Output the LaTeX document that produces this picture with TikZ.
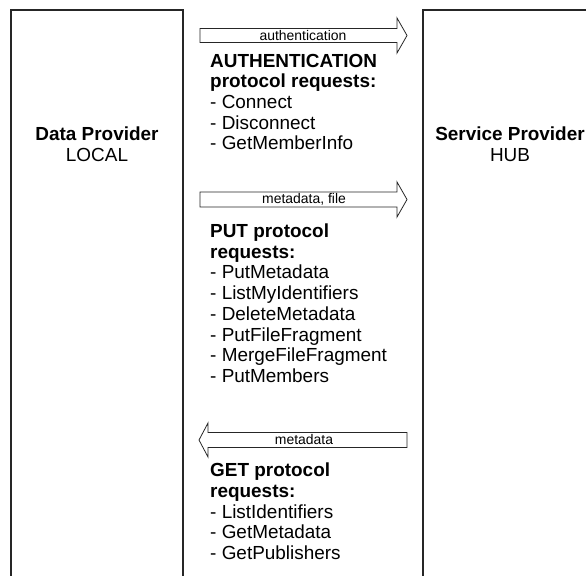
\documentclass[tikz,border=0pt]{standalone}
\usepackage{fontspec}
\setmainfont{Liberation Sans}
\begin{document}
\begin{tikzpicture}[x=1bp,y=-1bp,
  box/.style={draw=black!85, line width=1.3bp},
  arr/.style={draw=black!85, line width=0.8bp, line join=miter},
  lab/.style={font=\fontsize{14}{16}\selectfont, inner sep=0},
  main/.style={font=\fontsize{19}{21.5}\selectfont, align=center, inner sep=0, anchor=base},
  list/.style={font=\fontsize{19}{20.8}\selectfont, align=left, anchor=base west, inner sep=0}]
\useasboundingbox (0,0) rectangle (586,576);
\clip (0,0) rectangle (586,576);
% provider boxes
\draw[box] (11,600) -- (11,10) -- (183,10) -- (183,600);
\draw[box] (423,600) -- (423,10) -- (600,10) -- (600,600);
% labels: anchor=base is the baseline of the last line
\node[main] (dp) at (97,162) {\textbf{Data Provider}\\LOCAL};
\node[main] (sp) at (510,162) {\textbf{Service Provider}\\HUB};
% arrows
\draw[arr] (200,28.5) -- (397,28.5) -- (397,18) -- (407,35.5) -- (397,53) -- (397,42.5) -- (200,42.5) -- cycle;
\node[lab] (l1) at (303,35.5) {authentication};
\draw[arr] (200,192) -- (397,192) -- (397,182) -- (407,199.5) -- (397,217) -- (397,207) -- (200,207) -- cycle;
\node[lab] (l2) at (304,199.5) {metadata, file};
\draw[arr] (407,432.5) -- (208,432.5) -- (208,423) -- (199,440) -- (208,457) -- (208,447.5) -- (407,447.5) -- cycle;
\node[lab] (l3) at (304,440) {metadata};
% request lists
\node[list] (auth) at (210,150) {\textbf{AUTHENTICATION}\\\textbf{protocol requests:}\\- Connect\\- Disconnect\\- GetMemberInfo};
\node[list] (put) at (210,382.5) {\textbf{PUT protocol}\\\textbf{requests:}\\- PutMetadata\\- ListMyIdentifiers\\- DeleteMetadata\\- PutFileFragment\\- MergeFileFragment\\- PutMembers};
\node[list] (get) at (210,559.5) {\textbf{GET protocol}\\\textbf{requests:}\\- ListIdentifiers\\- GetMetadata\\- GetPublishers};
\end{tikzpicture}
\end{document}
